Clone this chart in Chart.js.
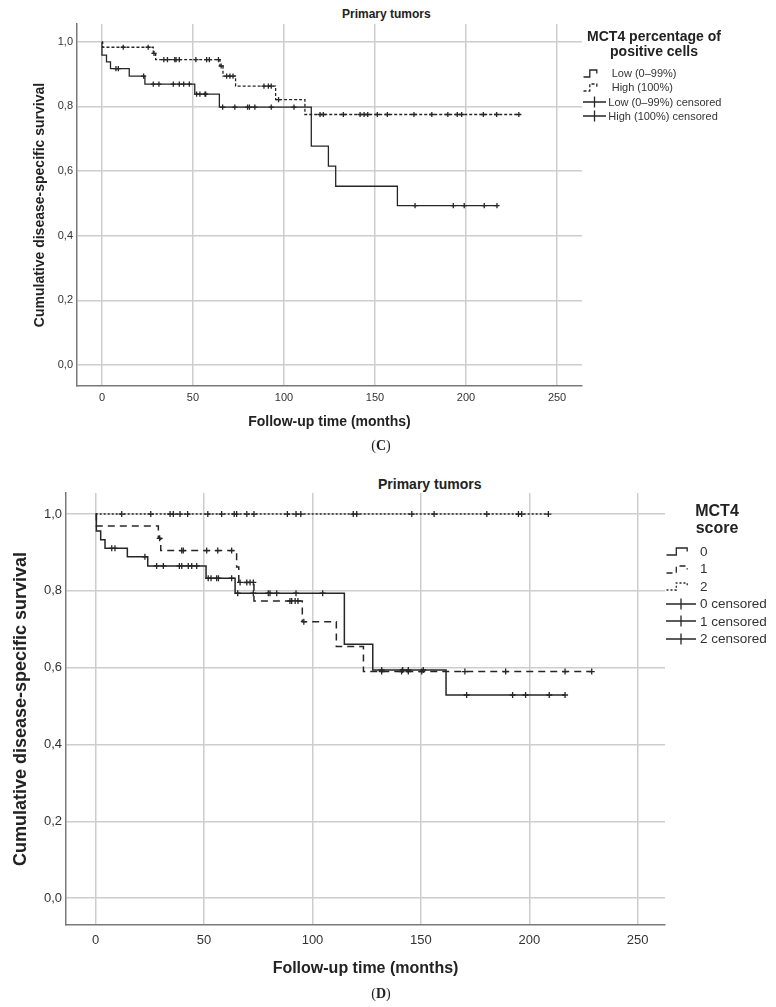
<!DOCTYPE html>
<html>
<head>
<meta charset="utf-8">
<title>MCT4 - cumulative disease-specific survival</title>
<script src="https://cdn.jsdelivr.net/npm/chart.js@4.4.1/dist/chart.umd.min.js"></script>
<style>
  html, body { margin: 0; padding: 0; background: #fff; }
  body { width: 776px; height: 1007px; position: relative; overflow: hidden;
         font-family: "Liberation Sans", Arial, sans-serif; color: #222; }
  .panel { position: absolute; left: 0; width: 776px; }
  #panelC { top: 0; height: 440px; }
  #panelD { top: 460px; height: 547px; }
  .title { position: absolute; font-weight: bold; white-space: nowrap; }
  .legend { position: absolute; color: #333; }
  .legend .head { font-weight: bold; text-align: center; color: #222; }
  .legend .row { display: flex; align-items: center; white-space: nowrap; }
  .legend svg { flex: none; display: block; }
  .caption { position: absolute; width: 60px; text-align: center;
             font-family: "Liberation Serif", "Times New Roman", serif; font-size: 14px; line-height: 16px; }
</style>
</head>
<body>

<div class="title" style="left:342px; top:7px; font-size:12px; line-height:14px;">Primary tumors</div>
<div class="panel" id="panelC"><canvas id="chartC"></canvas></div>
<div class="legend" id="legendC" style="left:583px; top:29px; width:142px;">
  <div class="head" style="font-size:14px; line-height:15px;">MCT4 percentage of<br>positive cells</div>
  <div style="height:6.5px"></div>
</div>
<div class="caption" style="left:351px; top:438px;">(<b>C</b>)</div>

<div class="title" style="left:378px; top:476px; font-size:14px; line-height:16px;">Primary tumors</div>
<div class="panel" id="panelD"><canvas id="chartD"></canvas></div>
<div class="legend" id="legendD" style="left:666px; top:501.5px; width:102px;">
  <div class="head" style="font-size:16px; line-height:17px;">MCT4<br>score</div>
  <div style="height:6.75px"></div>
</div>
<div class="caption" style="left:351px; top:986px;">(<b>D</b>)</div>

<script>
// ---- axes ----
const xTicks = [0, 50, 100, 150, 200, 250];
const yTicks = [0, 0.2, 0.4, 0.6, 0.8, 1.0];

// ---- (C) MCT4 percentage of positive cells ----
// event times (months) and survival level after each event
const lowTimes = [0, 2.5, 4.7, 15, 23.6, 51, 64.5, 115, 124.4, 128.4, 162.3];
const lowSurv = [0.959, 0.938, 0.917, 0.894, 0.869, 0.838, 0.798, 0.677, 0.615, 0.553, 0.493];
const lowEnd = 217;
const lowCensored = [7.7, 9, 22.9, 28.2, 31.3, 39.2, 42.5, 44.9, 48, 52, 53.8, 56.6, 57,
  66.3, 73, 80, 81, 84, 93, 105.5, 172, 193, 199, 210, 217];

const highTimes = [0.4, 28.2, 29.5, 64.8, 66.5, 73.4, 95.4, 111.5];
const highSurv = [0.983, 0.964, 0.945, 0.925, 0.894, 0.863, 0.821, 0.775];
const highEnd = 229;
const highCensored = [11.7, 25.4, 28.6, 34, 36, 40, 40.7, 42.5, 51.6, 57.5, 59, 64, 65.5,
  68.5, 70.3, 72, 89, 91.4, 93, 97, 119.8, 121.6, 132.6, 141.8, 144, 146, 151.3, 156.8,
  171.4, 181.2, 190, 195.2, 197.6, 209.5, 216.8, 229];

// ---- (D) MCT4 score ----
const s0Times = [0.3, 2.3, 4.3, 14.6, 24, 50.9, 64.3, 114.7, 127.8, 161.6];
const s0Surv = [0.956, 0.933, 0.911, 0.889, 0.865, 0.833, 0.794, 0.661, 0.594, 0.529];
const s0End = 216.5;
const s0Censored = [7.4, 8.9, 22.7, 28.1, 31.2, 38.6, 39.7, 42.7, 44.3, 46.6, 51.9, 53.2,
  55.8, 56.6, 62.7, 65.5, 72.7, 79.6, 80.4, 83.5, 92.4, 104.7, 131.9, 141.6, 144.2, 151.1,
  171.1, 192.3, 198.3, 209.2, 216.5];

const s1Times = [0.3, 28.9, 30, 65, 66, 73, 95.3, 111, 123.5];
const s1Surv = [0.969, 0.937, 0.905, 0.862, 0.822, 0.774, 0.72, 0.655, 0.59];
const s1End = 228.8;
const s1Censored = [29.5, 39.7, 40.4, 51.2, 56.3, 62.7, 66.6, 69.7, 71.2, 72.7, 89.6, 90.4,
  92, 93.3, 96, 131.9, 141.1, 144.2, 150.4, 170.3, 189.1, 216.5, 228.8];

const s2Times = [];
const s2Surv = [];
const s2End = 208.8;
const s2Censored = [12, 25.4, 34.3, 35.8, 38.9, 42.4, 51.7, 58.1, 63.9, 65, 69.7, 73, 88.4,
  92.4, 94.6, 118.8, 120.4, 145.8, 156.1, 180.4, 195, 196.5, 208.8];

const lineColor = '#262626';
const fontFamily = '"Liberation Sans", Arial, sans-serif';

// points for a stepped KM curve
function kmPoints(times, surv, end) {
  const pts = [{ x: 0, y: 1 }];
  times.forEach((t, i) => pts.push({ x: t, y: surv[i] }));
  pts.push({ x: end, y: surv.length ? surv[surv.length - 1] : 1 });
  return pts;
}

// survival level of a curve at time t
function survAt(times, surv, t) {
  let s = 1;
  times.forEach((ti, i) => { if (ti <= t) s = surv[i]; });
  return s;
}

function censorPoints(cens, times, surv) {
  return cens.map(t => ({ x: t, y: survAt(times, surv, t) }));
}

function curveDataset(label, times, surv, end, dash, width) {
  return {
    label: label,
    data: kmPoints(times, surv, end),
    showLine: true,
    stepped: true,
    borderColor: lineColor,
    borderWidth: width,
    borderDash: dash,
    pointRadius: 0,
    fill: false
  };
}

function censorDataset(label, cens, times, surv, radius) {
  return {
    label: label,
    data: censorPoints(cens, times, surv),
    showLine: false,
    pointStyle: 'cross',
    pointRadius: radius,
    pointBorderWidth: 1.3,
    pointBorderColor: lineColor,
    borderColor: lineColor
  };
}

function createKmChart(canvasId, datasets, o) {
  const ctx = document.getElementById(canvasId).getContext('2d');
  return new Chart(ctx, {
    type: 'scatter',
    data: { datasets },
    options: {
      responsive: true,
      maintainAspectRatio: false,
      animation: false,
      layout: { padding: { top: o.top, right: o.right, left: 0, bottom: 0 } },
      plugins: { legend: { display: false }, tooltip: { enabled: false } },
      scales: {
        x: {
          type: 'linear',
          min: o.xMin,
          max: o.xMax,
          afterBuildTicks: axis => { axis.ticks = xTicks.map(v => ({ value: v })); },
          afterFit: axis => { axis.height = o.xHeight; },
          grid: { color: '#cdcdcd', lineWidth: 1.5, drawTicks: false },
          border: { display: true, color: '#7a7a7a', width: 1.5 },
          ticks: { color: '#333', padding: o.xTickPad, font: { family: fontFamily, size: o.tickSize } },
          title: {
            display: true,
            text: 'Follow-up time (months)',
            color: '#222',
            padding: { top: 0, bottom: o.xTitlePad },
            font: { family: fontFamily, size: o.xTitleSize, weight: 'bold' }
          }
        },
        y: {
          min: o.yMin,
          max: o.yMax,
          afterBuildTicks: axis => { axis.ticks = yTicks.map(v => ({ value: v })); },
          afterFit: axis => { axis.width = o.yWidth; },
          grid: { color: '#cdcdcd', lineWidth: 1.5, drawTicks: false },
          border: { display: true, color: '#7a7a7a', width: 1.5 },
          ticks: {
            color: '#333',
            padding: 4,
            font: { family: fontFamily, size: o.tickSize },
            callback: v => v.toFixed(1).replace('.', ',')
          },
          title: {
            display: true,
            text: 'Cumulative disease-specific survival',
            color: '#222',
            padding: { top: o.yTitlePad, bottom: 0 },
            font: { family: fontFamily, size: o.yTitleSize, weight: 'bold' }
          }
        }
      }
    }
  });
}

// legend icons: small step line and the censor cross
const stepIcon = (w, dash) =>
  `<svg width="${w + 2}" height="12"><path d="M0.5,10 H${(w * 0.45).toFixed(1)} V3 H${(w * 0.92).toFixed(1)} V6.5" fill="none" stroke="${lineColor}" stroke-width="1.3" stroke-dasharray="${dash}"/></svg>`;
const crossIcon = w =>
  `<svg width="${w}" height="14"><path d="M0,7 H${w} M${w / 2},1.5 V12.5" fill="none" stroke="${lineColor}" stroke-width="1.3"/></svg>`;

function addLegendRow(legendId, icon, boxWidth, text, fontSize, rowHeight) {
  const row = document.createElement('div');
  row.className = 'row';
  row.style.height = rowHeight + 'px';
  row.style.fontSize = fontSize + 'px';
  row.innerHTML = `<span style="display:inline-block;width:${boxWidth}px">${icon}</span><span>${text}</span>`;
  document.getElementById(legendId).appendChild(row);
}

// (C)
createKmChart('chartC', [
  curveDataset('Low (0–99%)', lowTimes, lowSurv, lowEnd, [], 1.3),
  curveDataset('High (100%)', highTimes, highSurv, highEnd, [3, 2], 1.3),
  censorDataset('Low (0–99%) censored', lowCensored, lowTimes, lowSurv, 2.6),
  censorDataset('High (100%) censored', highCensored, highTimes, highSurv, 2.6)
], {
  top: 24, right: 194, xMin: -13.7, xMax: 263.7, yMin: -0.065, yMax: 1.055,
  xHeight: 54, yWidth: 77, xTickPad: 5, tickSize: 11,
  xTitleSize: 14, xTitlePad: 9.5, yTitleSize: 14, yTitlePad: 31.6
});

addLegendRow('legendC', stepIcon(15, ''), 28.7, 'Low (0–99%)', 11, 14.5);
addLegendRow('legendC', stepIcon(15, '3,2'), 28.7, 'High (100%)', 11, 14.5);
addLegendRow('legendC', crossIcon(23), 25.3, 'Low (0–99%) censored', 11, 14.5);
addLegendRow('legendC', crossIcon(23), 25.3, 'High (100%) censored', 11, 14.5);

// (D)
createKmChart('chartD', [
  curveDataset('0', s0Times, s0Surv, s0End, [], 1.5),
  curveDataset('1', s1Times, s1Surv, s1End, [7, 5], 1.5),
  curveDataset('2', s2Times, s2Surv, s2End, [2, 2], 1.5),
  censorDataset('0 censored', s0Censored, s0Times, s0Surv, 3),
  censorDataset('1 censored', s1Censored, s1Times, s1Surv, 3),
  censorDataset('2 censored', s2Censored, s2Times, s2Surv, 3)
], {
  top: 33, right: 111, xMin: -13.7, xMax: 262.6, yMin: -0.07, yMax: 1.055,
  xHeight: 82, yWidth: 66, xTickPad: 8, tickSize: 13,
  xTitleSize: 16, xTitlePad: 28.4, yTitleSize: 18, yTitlePad: 10.7
});

addLegendRow('legendD', stepIcon(23, ''), 34, '0', 13.5, 17.5);
addLegendRow('legendD', stepIcon(23, '6,4'), 34, '1', 13.5, 17.5);
addLegendRow('legendD', stepIcon(23, '2,2'), 34, '2', 13.5, 17.5);
addLegendRow('legendD', crossIcon(30), 34, '0 censored', 13.5, 17.5);
addLegendRow('legendD', crossIcon(30), 34, '1 censored', 13.5, 17.5);
addLegendRow('legendD', crossIcon(30), 34, '2 censored', 13.5, 17.5);
</script>
</body>
</html>
